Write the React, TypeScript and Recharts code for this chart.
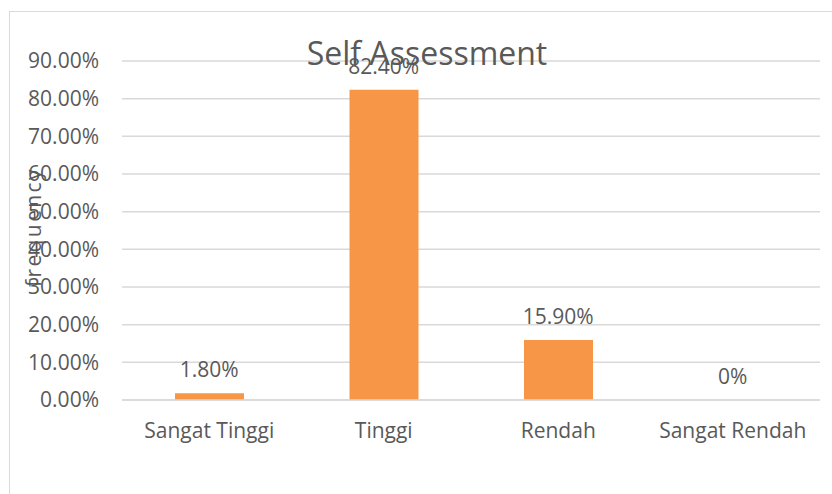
import React from 'react';
import { ComposedChart, Bar, Line, XAxis, YAxis, CartesianGrid, LabelList } from 'recharts';

const categories = ['Sangat Tinggi', 'Tinggi', 'Rendah', 'Sangat Rendah'];
const frequency = [0.018, 0.824, 0.159, 0];
const yTicks = [0, 0.1, 0.2, 0.3, 0.4, 0.5, 0.6, 0.7, 0.8, 0.9];

const data = categories.map((name, i) => ({ name, value: frequency[i] }));

const FONT = '"Open Sans", "Liberation Sans", sans-serif';
const TEXT = '#595959';
const FS = 21;

const pct = (v: number) => `${(v * 100).toFixed(2)}%`;
// Excel shows a plain 0% for the empty category
const labelPct = (v: any) => (Number(v) === 0 ? '0%' : pct(Number(v)));

export default function App() {
    return (
        <div style={{ position: 'absolute', left: 0, top: 0, width: 832, height: 494, background: '#fff', fontFamily: FONT }}>
            <div
                style={{
                    position: 'absolute',
                    left: 9,
                    top: 11,
                    width: 840,
                    height: 500,
                    border: '1px solid #d9d9d9',
                    boxSizing: 'border-box',
                }}
            />
            <ComposedChart
                width={832}
                height={494}
                data={data}
                margin={{ top: 61, right: 12, left: 0, bottom: 0 }}
                style={{ position: 'absolute', left: 0, top: 0 }}
            >
                <CartesianGrid vertical={false} stroke="#d9d9d9" strokeWidth={1.5} />
                <XAxis
                    dataKey="name"
                    height={94}
                    axisLine={{ stroke: '#d9d9d9', strokeWidth: 1.5 }}
                    tickLine={false}
                    tickSize={0}
                    tickMargin={23}
                    interval={0}
                    tick={{ fontSize: FS, fill: TEXT, fontFamily: FONT }}
                />
                <YAxis
                    width={122}
                    domain={[0, 0.9]}
                    ticks={yTicks}
                    tickFormatter={pct}
                    axisLine={false}
                    tickLine={false}
                    tickSize={0}
                    tickMargin={23}
                    interval={0}
                    tick={{ fontSize: FS, fill: TEXT, fontFamily: FONT }}
                />
                <Bar dataKey="value" fill="#f79646" barSize={69} isAnimationActive={false} />
                <Line
                    dataKey="value"
                    stroke="none"
                    dot={false}
                    activeDot={false}
                    isAnimationActive={false}
                >
                    <LabelList
                        dataKey="value"
                        position="top"
                        offset={16}
                        formatter={labelPct}
                        style={{ fontSize: FS, fill: TEXT, fontFamily: FONT }}
                    />
                </Line>
            </ComposedChart>
            <svg width={832} height={494} style={{ position: 'absolute', left: 0, top: 0, pointerEvents: 'none' }}>
                <text x={427} y={65} textAnchor="middle" fontSize={32} fill={TEXT} fontFamily={FONT}>
                    Self Assessment
                </text>
                <text
                    x={33}
                    y={227}
                    transform="rotate(-90 33 227)"
                    textAnchor="middle"
                    dominantBaseline="central"
                    fontSize={FS}
                    letterSpacing={2.4}
                    fill={TEXT}
                    fontFamily={FONT}
                >
                    frequency
                </text>
            </svg>
        </div>
    );
}
